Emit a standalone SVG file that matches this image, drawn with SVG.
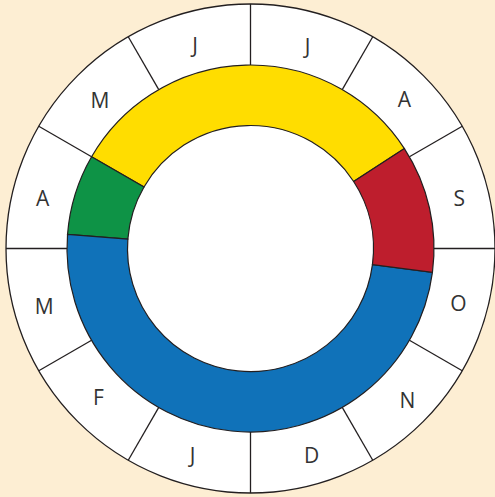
<svg xmlns="http://www.w3.org/2000/svg" width="495" height="497" viewBox="0 0 495 497">
<style>
.ln{stroke:#231F20;stroke-width:1.3;fill:none}
.seg{stroke:#231F20;stroke-width:1.2}
.lb{font-family:"Open Sans","Liberation Sans",sans-serif;font-size:21px;fill:#333;text-anchor:middle}
</style>
<rect width="495" height="497" fill="#FDEED3"/>
<g id="dial">
<circle cx="250.5" cy="248.5" r="244.5" fill="#fff" stroke="#231F20" stroke-width="1.3"/>
<circle cx="250.5" cy="248.5" r="123" fill="#fff"/>
</g>
<g id="connectors">
<line class="ln" x1="434" y1="248.5" x2="495" y2="248.5"/>
<line class="ln" x1="434" y1="248.5" x2="495" y2="248.5" transform="rotate(-30 250.5 248.5)"/>
<line class="ln" x1="434" y1="248.5" x2="495" y2="248.5" transform="rotate(-60 250.5 248.5)"/>
<line class="ln" x1="434" y1="248.5" x2="495" y2="248.5" transform="rotate(-90 250.5 248.5)"/>
<line class="ln" x1="434" y1="248.5" x2="495" y2="248.5" transform="rotate(-120 250.5 248.5)"/>
<line class="ln" x1="434" y1="248.5" x2="495" y2="248.5" transform="rotate(-150 250.5 248.5)"/>
<line class="ln" x1="434" y1="248.5" x2="495" y2="248.5" transform="rotate(180 250.5 248.5)"/>
<line class="ln" x1="434" y1="248.5" x2="495" y2="248.5" transform="rotate(150 250.5 248.5)"/>
<line class="ln" x1="434" y1="248.5" x2="495" y2="248.5" transform="rotate(120 250.5 248.5)"/>
<line class="ln" x1="434" y1="248.5" x2="495" y2="248.5" transform="rotate(90 250.5 248.5)"/>
<line class="ln" x1="434" y1="248.5" x2="495" y2="248.5" transform="rotate(60 250.5 248.5)"/>
<line class="ln" x1="434" y1="248.5" x2="495" y2="248.5" transform="rotate(30 250.5 248.5)"/>
</g>
<g id="yellow"><path class="seg" fill="#FFDD00" d="M404.4,148.56 A183.5,183.5 0 0 0 91.6,156.75 L144,187 A123,123 0 0 1 353.66,181.51 Z"/></g>
<g id="green"><path class="seg" fill="#0E9346" d="M91.6,156.75 A183.5,183.5 0 0 0 67.54,234.42 L127.86,239.06 A123,123 0 0 1 144,187 Z"/></g>
<g id="blue"><path class="seg" fill="#1072B9" d="M67.54,234.42 A183.5,183.5 0 0 0 432.43,272.45 L372.45,264.56 A123,123 0 0 1 127.86,239.06 Z"/></g>
<g id="red"><path class="seg" fill="#BE1E2D" d="M432.43,272.45 A183.5,183.5 0 0 0 404.4,148.56 L353.66,181.51 A123,123 0 0 1 372.45,264.56 Z"/></g>
<g id="labels">
<text class="lb" x="307.5" y="53.5">J</text>
<text class="lb" x="404.3" y="107">A</text>
<text class="lb" x="459.3" y="206">S</text>
<text class="lb" x="458.3" y="311">O</text>
<text class="lb" x="407.3" y="407.5">N</text>
<text class="lb" x="311.7" y="463">D</text>
<text class="lb" x="192.5" y="462.5">J</text>
<text class="lb" x="98.5" y="405.2">F</text>
<text class="lb" x="44.3" y="314.2">M</text>
<text class="lb" x="42.7" y="206">A</text>
<text class="lb" x="100" y="107.5">M</text>
<text class="lb" x="195.1" y="52.5">J</text>
</g>
</svg>
